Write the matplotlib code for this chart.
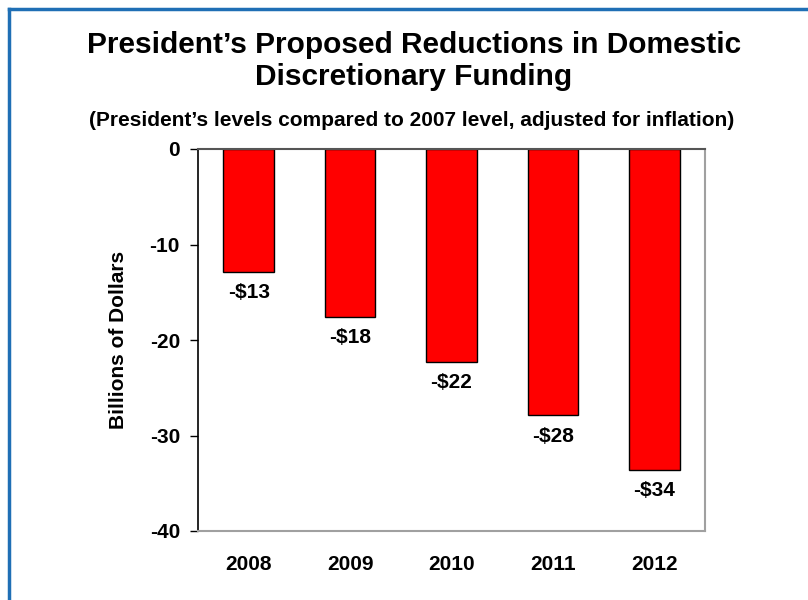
import matplotlib
matplotlib.use("Agg")
import matplotlib.pyplot as plt
from matplotlib.lines import Line2D

plt.rcParams['font.family'] = ['Liberation Sans', 'DejaVu Sans']
plt.rcParams['font.weight'] = 'bold'

years = ["2008", "2009", "2010", "2011", "2012"]
reductions = [-12.9, -17.6, -22.3, -27.9, -33.6]
y_ticks = [0, -10, -20, -30, -40]

fig = plt.figure(figsize=(8.08, 6.0), dpi=100)
ax = fig.add_axes([198 / 808, 1 - 531 / 600, (705 - 198) / 808, (531 - 149) / 600])

x = range(len(years))
bars = ax.bar(x, reductions, width=0.5, color='#ff0000', edgecolor='#000000', linewidth=1.0, zorder=2)

for xi, v in zip(x, reductions):
    ax.annotate(f"-${abs(v):.0f}", xy=(xi, v), xytext=(0, -8), textcoords='offset points',
                ha='center', va='top', fontsize=15, fontweight='bold')

ax.set_xlim(-0.5, len(years) - 0.5)
ax.set_ylim(-40, 0)
ax.set_yticks(y_ticks)
ax.set_yticklabels([str(t) for t in y_ticks], fontsize=15, fontweight='bold')
ax.set_xticks(list(x))
ax.set_xticklabels(years, fontsize=15, fontweight='bold')
ax.tick_params(axis='x', length=0, pad=17)
ax.tick_params(axis='y', length=6, width=1.0, color='black', direction='out', pad=7)

ax.spines['left'].set_color('black')
ax.spines['left'].set_linewidth(1.2)
ax.spines['top'].set_color('#555555')
ax.spines['top'].set_linewidth(1.5)
ax.spines['right'].set_color('#a0a0a0')
ax.spines['right'].set_linewidth(1.5)
ax.spines['bottom'].set_color('#a0a0a0')
ax.spines['bottom'].set_linewidth(1.5)

ax.set_ylabel("Billions of Dollars", fontsize=15, fontweight='bold')
ax.yaxis.set_label_coords((128 - 198) / (705 - 198), 0.5)

fig.text(414 / 808, 1 - 61 / 600, "President\u2019s Proposed Reductions in Domestic\nDiscretionary Funding",
         ha='center', va='center', fontsize=21.5, fontweight='bold', linespacing=1.22)
fig.text(412 / 808, 1 - 120 / 600, "(President\u2019s levels compared to 2007 level, adjusted for inflation)",
         ha='center', va='center', fontsize=15, fontweight='bold')

# frame lines along the top and left edges
border = '#1f6fb5'
fig.add_artist(Line2D([9 / 808, 1], [1 - 9 / 600, 1 - 9 / 600], transform=fig.transFigure,
                      color=border, linewidth=2.5))
fig.add_artist(Line2D([9 / 808, 9 / 808], [0, 1 - 9 / 600], transform=fig.transFigure,
                      color=border, linewidth=2.5))

fig.savefig("out.png", dpi=100)
